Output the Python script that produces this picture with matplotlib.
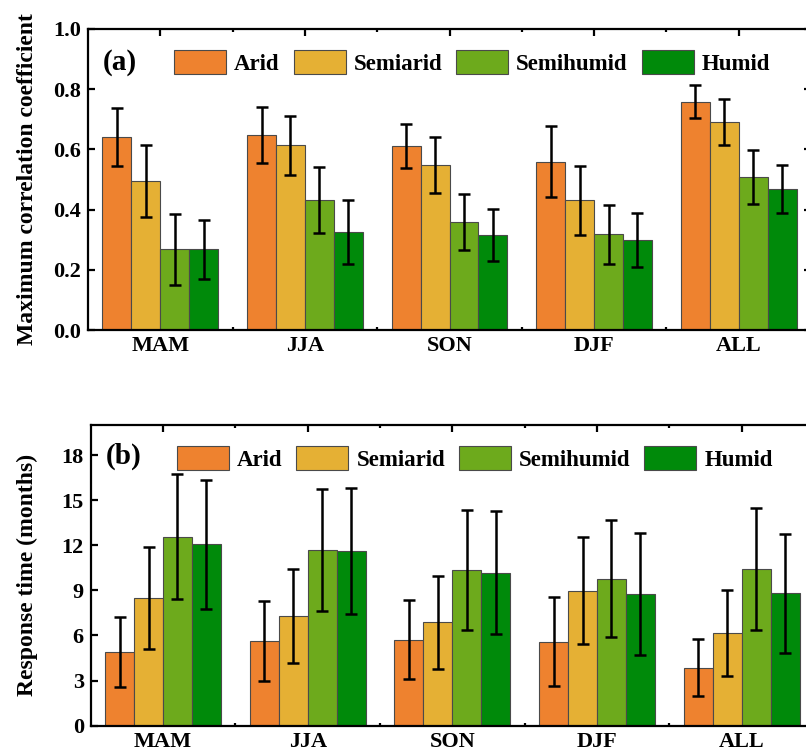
import matplotlib
matplotlib.use("Agg")
import matplotlib.pyplot as plt
import numpy as np

plt.rcParams["font.family"] = ["Liberation Serif", "DejaVu Serif"]
plt.rcParams["font.weight"] = "bold"

seasons = ["MAM", "JJA", "SON", "DJF", "ALL"]
regions = ["Arid", "Semiarid", "Semihumid", "Humid"]
colors = ["#EE822F", "#E5B034", "#6DAA1C", "#008A0A"]

# (a) maximum correlation coefficient, mean and spread per climate region
corr_arid = [0.641, 0.649, 0.612, 0.559, 0.759]
corr_semiarid = [0.494, 0.614, 0.548, 0.431, 0.690]
corr_semihumid = [0.269, 0.431, 0.359, 0.318, 0.509]
corr_humid = [0.269, 0.326, 0.316, 0.298, 0.469]
corr_err_arid = [0.095, 0.093, 0.073, 0.118, 0.054]
corr_err_semiarid = [0.120, 0.098, 0.092, 0.115, 0.077]
corr_err_semihumid = [0.118, 0.109, 0.093, 0.098, 0.090]
corr_err_humid = [0.098, 0.107, 0.087, 0.090, 0.080]

# (b) response time in months
resp_arid = [4.89, 5.65, 5.71, 5.60, 3.85]
resp_semiarid = [8.49, 7.29, 6.89, 8.98, 6.16]
resp_semihumid = [12.58, 11.69, 10.38, 9.78, 10.43]
resp_humid = [12.07, 11.60, 10.16, 8.73, 8.80]
resp_err_arid = [2.33, 2.65, 2.63, 2.93, 1.89]
resp_err_semiarid = [3.37, 3.14, 3.10, 3.55, 2.85]
resp_err_semihumid = [4.15, 4.07, 3.99, 3.89, 4.07]
resp_err_humid = [4.28, 4.20, 4.09, 4.06, 3.98]

corr_vals = [corr_arid, corr_semiarid, corr_semihumid, corr_humid]
corr_errs = [corr_err_arid, corr_err_semiarid, corr_err_semihumid, corr_err_humid]
resp_vals = [resp_arid, resp_semiarid, resp_semihumid, resp_humid]
resp_errs = [resp_err_arid, resp_err_semiarid, resp_err_semihumid, resp_err_humid]

W, H = 806, 756
fig = plt.figure(figsize=(W / 100, H / 100), dpi=100)


def px_axes(left, top, right, bottom):
    return fig.add_axes([left / W, 1 - bottom / H, (right - left) / W, (bottom - top) / H])


ax_a = px_axes(88, 29, 811, 330)
ax_b = px_axes(90.7, 425, 814, 725.7)

x = np.arange(len(seasons))
bw = 0.2
offsets = [-1.5 * bw, -0.5 * bw, 0.5 * bw, 1.5 * bw]


def draw_panel(ax, vals, errs, ylim, yticks, ytick_labels, ylabel, tag, tag_y, label_x):
    for i, reg in enumerate(regions):
        ax.bar(x + offsets[i], vals[i], bw, color=colors[i], edgecolor="#4a4a4a",
               linewidth=0.8, label=reg, zorder=2)
        ax.errorbar(x + offsets[i], vals[i], yerr=errs[i], fmt="none", ecolor="black",
                    elinewidth=1.8, capsize=4.6, capthick=1.8, zorder=3)
    ax.set_xlim(-0.5, 4.5)
    ax.set_ylim(*ylim)
    ax.set_xticks(x)
    ax.set_xticklabels(seasons, fontsize=16, fontweight="bold")
    ax.set_xticks(x[:-1] + 0.5, minor=True)
    ax.set_yticks(yticks)
    ax.set_yticklabels(ytick_labels, fontsize=16, fontweight="bold")
    ax.tick_params(axis="both", which="major", direction="in", length=5, width=1.6,
                   top=True, right=True, pad=5)
    ax.tick_params(axis="x", which="minor", direction="in", length=2.5, width=1.6,
                   top=True, bottom=True)
    ax.tick_params(axis="x", which="major", pad=4.5)
    for sp in ax.spines.values():
        sp.set_linewidth(1.6)
    ax.set_ylabel(ylabel, fontsize=17, fontweight="bold")
    ax.yaxis.set_label_coords(label_x, 0.5)
    ax.text(0.021, tag_y, tag, transform=ax.transAxes, fontsize=21,
            fontweight="bold", va="center", ha="left")
    ax.legend(ncol=4, frameon=False, loc="center left", bbox_to_anchor=(0.119, 0.889),
              borderpad=0, borderaxespad=0,
              prop={"weight": "bold", "size": 16.5},
              handlelength=2.27, handleheight=1.25, handletextpad=0.35,
              columnspacing=0.61)


draw_panel(ax_a, corr_vals, corr_errs, (0, 1.0), [0, 0.2, 0.4, 0.6, 0.8, 1.0],
           ["0.0", "0.2", "0.4", "0.6", "0.8", "1.0"],
           "Maximum correlation coefficient", "(a)", 0.889, -0.069)
draw_panel(ax_b, resp_vals, resp_errs, (0, 20), [0, 3, 6, 9, 12, 15, 18],
           ["0", "3", "6", "9", "12", "15", "18"],
           "Response time (months)", "(b)", 0.895, -0.0729)

fig.savefig("out.png", dpi=100)
